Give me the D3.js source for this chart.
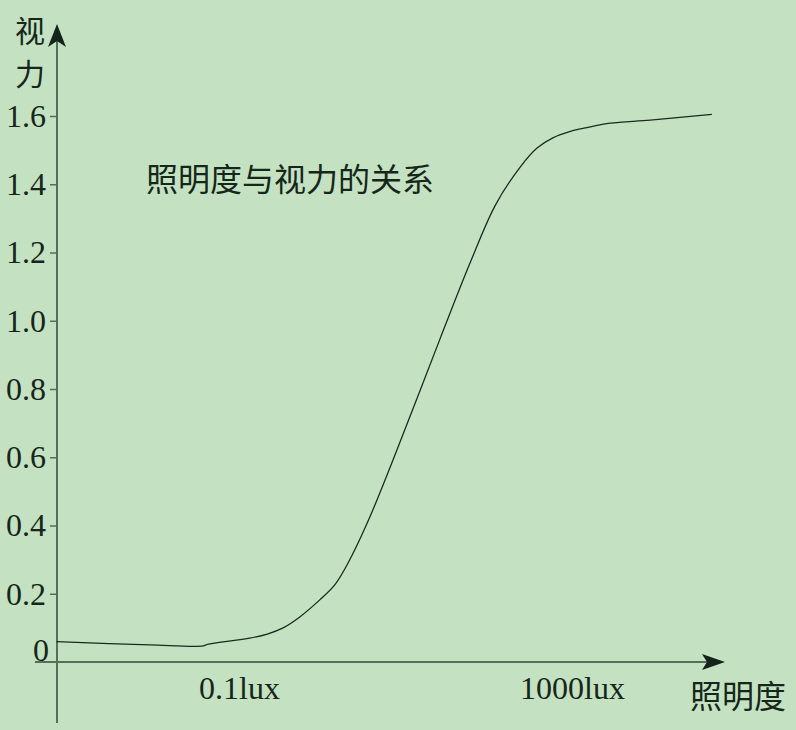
<!DOCTYPE html>
<html>
<head>
<meta charset="utf-8">
<script src="https://cdn.jsdelivr.net/npm/d3@7/dist/d3.min.js"></script>
<style>
  html, body { margin: 0; padding: 0; background: #c4e2c1; }
  svg { display: block; }
</style>
</head>
<body>
<svg id="chart" width="796" height="730"></svg>
<script>
// ---- data ----
// x: log10 of illuminance (lux); y: visual acuity
const logLux = [-3.19, -2.07, -1.43, -1.38, -0.87, -0.66, -0.47, -0.27, -0.03, 0.15, 0.31, 0.54, 0.85, 1.41, 1.78, 2.08, 2.38, 2.58, 2.77, 2.98, 3.18, 3.46, 3.94, 4.68];
const acuity = [0.060, 0.050, 0.047, 0.052, 0.070, 0.082, 0.100, 0.132, 0.182, 0.226, 0.290, 0.407, 0.592, 0.944, 1.172, 1.339, 1.451, 1.506, 1.536, 1.555, 1.566, 1.579, 1.588, 1.605];
const yTicks = [0.2, 0.4, 0.6, 0.8, 1.0, 1.2, 1.4, 1.6];
const xTickValues = [-1, 3];
const xTickLabels = ["0.1lux", "1000lux"];
const title = "照明度与视力的关系";
const yTitle = ["视", "力"];
const xTitle = "照明度";

// ---- setup ----
const svg = d3.select("#chart");
const axisColor = "#53715a";
const textColor = "#17261a";
const serif = "'Liberation Serif', 'Times New Roman', serif";
const cjk = "'Noto Sans CJK SC', sans-serif";

const x0 = 57, y0 = 662;
const x = d3.scaleLinear().domain([-1, 3]).range([239, 572]);
const y = d3.scaleLinear().domain([0, 1.6]).range([y0, 116]);

// y axis
const yAxis = d3.axisLeft(y).tickValues(yTicks).tickSize(7).tickPadding(4)
  .tickFormat(d3.format(".1f"));
const gy = svg.append("g").attr("transform", `translate(${x0},0)`).call(yAxis);
gy.select(".domain").remove();
gy.selectAll(".tick line").attr("stroke", axisColor).attr("stroke-width", 1.5);
gy.selectAll(".tick text").attr("fill", textColor).attr("font-family", serif).attr("font-size", 32);

// zero label
svg.append("text").attr("x", 49).attr("y", y(0) - 12)
  .attr("text-anchor", "end").attr("dominant-baseline", "central")
  .attr("fill", textColor).attr("font-family", serif).attr("font-size", 32).text("0");

// x axis labels
const xAxis = d3.axisBottom(x).tickValues(xTickValues).tickSize(0).tickPadding(14)
  .tickFormat((d, i) => xTickLabels[i]);
const gx = svg.append("g").attr("transform", `translate(0,${y0})`).call(xAxis);
gx.select(".domain").remove();
gx.selectAll(".tick text").attr("fill", textColor).attr("font-family", serif).attr("font-size", 32);

// axis lines
svg.append("line").attr("x1", x0).attr("x2", x0).attr("y1", 723).attr("y2", 40)
  .attr("stroke", axisColor).attr("stroke-width", 2);
svg.append("line").attr("x1", 35).attr("x2", 712).attr("y1", y0).attr("y2", y0)
  .attr("stroke", axisColor).attr("stroke-width", 2);

// arrows
svg.append("path").attr("d", `M${x0},24 L${x0 + 9},47 L${x0},41 L${x0 - 9},47 Z`).attr("fill", "#14241a");
svg.append("path").attr("d", `M725,${y0} L702,${y0 - 8} L707,${y0} L702,${y0 + 8} Z`).attr("fill", "#14241a");

// curve
const pts = logLux.map((v, i) => [v, acuity[i]]);
const line = d3.line().x(d => x(d[0])).y(d => y(d[1])).curve(d3.curveCatmullRom.alpha(0.5));
svg.append("path").datum(pts).attr("d", line)
  .attr("fill", "none").attr("stroke", "#1b2b20").attr("stroke-width", 1.3);

// titles
svg.append("text").attr("x", 146).attr("y", 177).attr("dominant-baseline", "central")
  .attr("fill", textColor).attr("font-family", cjk).attr("font-size", 32).text(title);
svg.selectAll(".ytitle").data(yTitle).enter().append("text")
  .attr("x", 30).attr("y", (d, i) => 29 + i * 43)
  .attr("text-anchor", "middle").attr("dominant-baseline", "central")
  .attr("fill", textColor).attr("font-family", cjk).attr("font-size", 30).text(d => d);
svg.append("text").attr("x", 738).attr("y", 694).attr("text-anchor", "middle").attr("dominant-baseline", "central")
  .attr("fill", textColor).attr("font-family", cjk).attr("font-size", 32).text(xTitle);
</script>
</body>
</html>
